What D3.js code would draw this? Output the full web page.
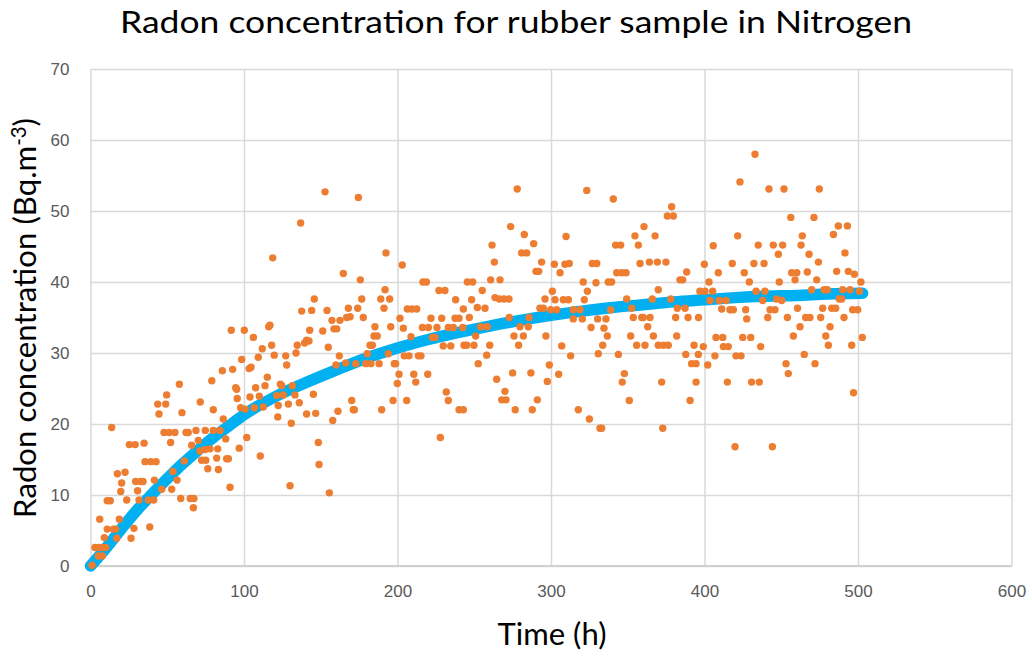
<!DOCTYPE html>
<html lang="en">
<head>
    <title>Radon concentration for rubber sample in Nitrogen</title>
    <meta charset="utf-8"/>
    <script src="https://d3js.org/d3.v7.min.js"></script>
    <style>
        body { margin: 0; background: #fff; }
        svg { font-family: Lato, "Open Sans", sans-serif; }
        .grid line { stroke: #d9d9d9; stroke-width: 1.5px; }
        .ticks text { fill: #595959; font-size: 17px; }
    </style>
</head>
<body>
<div id="chart">
    <svg width="1032" height="656"></svg>
</div>

<script type="text/javascript">

    const measuredPoints = [
        // 0 - 100 h
        [57.9,25.6],[49.6,24.1],[43.8,22.8],[49.0,22.8],[71.5,23.1],[44.6,21.4],[59.6,21.6],[80,22.0],
        [13.8,19.5],[47.9,18.8],[51.3,18.8],[55,18.8],[62.2,18.8],[63.7,18.8],[68.7,19.1],[74.8,19.1],
        [80,19.1],[52.2,17.4],[65.9,17.0],[70.2,17.7],[25.3,17.1],[29.1,17.1],[34.9,17.3],[71.3,16.2],
        [74.6,16.4],[77.9,16.5],[35.5,14.7],[39.2,14.7],[42.7,14.7],[61.1,14.8],[72.4,14.9],[75.1,14.9],
        [76.4,13.7],[17.5,13.0],[22.5,13.2],[53.7,13.3],[20.3,11.7],[29.4,11.9],[32.7,11.9],[34.2,11.9],
        [41.6,12.1],[56.4,12.1],[46.4,10.8],[52.9,10.8],[19.7,10.5],[30.7,10.6],[10.9,9.2],[12.9,9.2],
        [23.6,9.3],[31.6,9.3],[37.7,9.3],[41.2,9.3],[58.8,9.5],[65.0,9.5],[67.4,9.5],[67,8.2],
        [6.0,6.6],[18.8,6.6],[10.9,5.2],[14.9,5.2],[16.4,5.2],[28.3,5.3],[38.6,5.5],[9.0,4.0],
        [17.1,3.9],[26.4,3.9],[2.9,2.6],[5.5,2.6],[7.9,2.6],[9.9,2.6],[5.1,1.4],[7.7,1.4],
        [1,0.1],[79,26.1],[84.4,19.1],[88.1,17.9],[82.9,16.5],[96.9,16.6],[82.2,15.2],[88.7,15.1],
        [89.8,15.1],[83.3,13.6],[90.9,11.1],[91.7,33.2],[100.2,33.2],[98.5,29.1],[85.9,27.5],[92.6,27.7],
        [94.6,25.1],[95.2,24.9],[95.6,23.6],[97.8,22.3],[86.5,20.7],
        // 100 - 165 h
        [101.8,18.1],[148.4,17.4],[110.6,15.5],[148.9,14.3],[130,11.3],[155.6,10.3],
        [118.7,43.4],[145.8,37.6],[137.6,35.9],[144.1,36.0],[154.1,36.0],[157.3,34.6],[162.5,34.6],[116.1,33.7],
        [116.9,33.9],[106.1,32.2],[142.8,33.2],[151.3,33.1],[158.6,33.4],[160.4,33.4],[140.8,31.8],[142.3,31.7],
        [139.5,31.4],[134.7,31.1],[118,31.1],[111.9,30.6],[154.9,30.8],[109.3,29.4],[119.7,29.7],[127.2,29.6],
        [133.9,30.0],[127.8,28.3],[162.1,29.6],[159.9,28.3],[103.3,27.8],[104.6,28.0],[115.2,26.6],[107.6,25.1],
        [113.7,25.4],[123.7,25.6],[124.6,25.4],[131.5,25.4],[103.9,23.8],[110,23.9],[121.3,24.0],[125.6,24.1],
        [133.2,24.1],[145.2,24.2],[136,23.0],[128.9,22.8],[122.3,22.6],[100.7,22.1],[106.7,22.3],[112.6,22.4],
        [140.8,21.4],[146.7,21.5],[122,21.0],[161.2,21.8],[157.8,20.5],[130.8,20.1],[152.8,52.7],[136.9,48.3],
        // 165 - 245 h
        [174.5,51.9],[192.5,44.1],[203.1,42.4],[164.7,41.2],[175.8,40.3],[216.6,40.0],[218.8,40.0],[191.9,38.9],
        [227.0,38.8],[230.9,38.8],[176.7,37.6],[189.1,37.6],[194.9,37.6],[237.9,37.5],[168,36.3],[174.1,36.3],
        [191.2,36.3],[206.4,36.2],[209.3,36.2],[212.5,36.2],[242.9,36.2],[166.9,35.0],[169.1,35.1],[177.7,35.0],
        [201.6,34.9],[221.8,34.9],[228.8,34.9],[237.5,34.9],[240.1,34.9],[185.3,33.7],[195.6,33.7],[203.8,33.5],
        [216.2,33.6],[220.1,33.6],[225.7,33.6],[233.1,33.6],[236.4,33.6],[242.5,33.6],[184.7,32.4],[186.8,32.4],
        [208.8,32.3],[222.7,32.2],[224.4,32.2],[182.1,31.1],[183.6,31.1],[229.8,31.0],[234.7,31.0],[243.3,31.1],
        [180.3,29.9],[194.0,29.9],[204.4,29.6],[207.5,29.6],[213.6,29.6],[215.3,29.6],[166.3,28.6],[172.8,28.5],
        [179.3,28.5],[182.7,28.5],[188,28.5],[197.9,28.5],[198.8,28.5],[201,27.0],[199.9,25.7],[210.6,27.0],
        [211.9,25.9],[219.7,27.0],[197.1,23.3],[206,23.3],[170.2,23.3],[171.2,22.0],[171.9,22.0],[189.7,22.0],
        [231.8,24.5],[233.1,23.3],[240.1,22.0],[242.9,22.0],[227.9,18.1],
        // 245 - 332 h
        [278,53.1],[323.3,52.9],[273.7,47.8],[282.6,46.7],[309.8,46.4],[261.6,45.2],[288.7,45.4],[280.9,44.1],
        [284.2,44.1],[263.1,42.8],[293.9,42.8],[302.2,42.5],[309.1,42.5],[311.9,42.6],[326.9,42.6],[329.8,42.6],
        [290.2,41.5],[292,41.5],[305.9,41.3],[245.5,40.0],[249,40.0],[260.7,40.3],[266.8,40.3],[321,40.0],
        [329.3,39.9],[255.2,38.8],[300.9,38.7],[323.7,38.7],[263.5,37.8],[266.3,37.6],[269.4,37.6],[272.6,37.6],
        [248.3,37.5],[296.1,37.6],[302.6,37.5],[308,37.5],[311.3,37.5],[321.7,37.5],[252,36.4],[257,36.3],
        [292.8,36.3],[295,36.3],[299.8,36.1],[303.7,36.1],[314.5,36.1],[318.9,36.1],[246.8,35.0],[272.8,35.0],
        [285.7,35.0],[314.5,34.8],[320.4,34.8],[330.4,34.8],[254.2,33.7],[258.5,33.7],[279.8,33.7],[285.2,33.7],
        [326.1,33.6],[250.9,32.4],[275.9,32.4],[282,32.4],[296.7,32.4],[245.1,31.1],[249.8,31.1],[260.1,31.1],
        [278.9,31.1],[258.1,29.7],[307,31.0],[312.8,29.6],[330.8,29.9],[252.6,28.5],[298.9,28.3],[275,27.2],
        [286.9,27.2],[305,27.0],[264.6,26.3],[297.6,26.0],[270,24.6],[267.9,23.4],[270.7,23.4],[291.1,23.4],
        [276.7,22.0],[287.8,22.0],[317.8,22.0],[325,20.7],[331.9,19.4],
        // 332 - 416 h
        [340.6,51.7],[378.6,50.6],[375.8,49.3],[379.7,49.3],[360.6,47.8],[354.7,46.5],[367.8,46.5],[356.9,45.2],
        [342.1,45.2],[345.4,45.2],[405.7,45.1],[358,42.6],[364.1,42.8],[369.3,42.8],[374.9,42.8],[399.9,42.5],
        [342.8,41.3],[346.1,41.3],[348.9,41.3],[388.4,41.4],[409,41.3],[337.3,40.0],[339.5,40.0],[384,40.3],
        [385.8,40.3],[402.9,40.0],[369.9,38.9],[397,38.7],[400.3,38.7],[405.3,38.7],[349.3,37.6],[366,37.6],
        [378,37.6],[403.6,37.4],[409.6,37.4],[414,37.4],[338.9,36.1],[352.6,36.3],[382.3,36.3],[387.3,36.3],
        [411.2,36.2],[335.8,34.8],[353.6,35.0],[359.1,35.0],[360.1,35.0],[364.5,35.0],[381.2,35.0],[389.3,35.0],
        [396.1,35.0],[334.5,33.5],[363,33.7],[336.7,32.4],[351.9,32.4],[366.7,32.4],[381.9,32.4],[407.5,32.2],
        [411.9,32.2],[333.7,31.1],[355.8,31.1],[361.2,31.1],[369.9,31.1],[373.2,31.1],[376.4,31.1],[393.2,31.1],
        [399.2,30.9],[412.3,30.9],[415.5,30.9],[343.9,29.8],[387.8,29.8],[396,29.8],[406.8,29.6],[391.6,28.5],
        [394.5,28.5],[402.1,28.3],[347.8,27.1],[346.4,25.9],[372.1,25.9],[394.5,25.9],[414.9,25.9],[351,23.3],
        [390.6,23.3],[333,19.4],[372.8,19.4],
        // 416 - 503 h
        [432.9,58.0],[423.1,54.1],[442,53.1],[451.8,53.1],[474.8,53.1],[456.2,49.1],[471.3,49.1],[487.2,47.9],
        [493.1,47.9],[484,46.7],[421.6,46.5],[463.7,46.5],[435,45.2],[444.8,45.2],[450.9,45.2],[462.9,45.2],
        [448.1,43.9],[468.1,43.9],[491.5,44.1],[418.1,42.6],[432.2,42.6],[438.8,42.6],[474.2,42.8],[425.9,41.3],
        [456.8,41.3],[460.1,41.3],[467,41.4],[486.1,41.5],[493.7,41.5],[497.6,41.1],[429.2,40.0],[448.7,40.0],
        [459,40.3],[473.1,40.3],[501.9,40.0],[433.6,38.7],[439.4,38.7],[469.8,38.9],[477.9,38.9],[480,38.9],
        [490,38.9],[494.8,38.9],[500.9,38.7],[437.9,37.4],[447,37.6],[450.3,37.4],[487.8,37.6],[489.4,37.6],
        [416.6,36.1],[418.8,36.1],[426.8,36.1],[442.7,36.1],[445.9,36.1],[460.6,36.3],[477,36.3],[482.9,36.3],
        [485.5,36.3],[496.5,36.1],[499.8,36.1],[427.5,34.8],[441.2,35.0],[454,35.0],[465.9,35.0],[468.7,35.0],
        [475.7,35.0],[490.9,35.0],[462.2,33.7],[481.8,33.7],[424.9,32.2],[430.1,32.2],[457.9,32.4],[479,32.4],
        [436.6,30.9],[480.7,31.1],[495.9,31.1],[502.8,32.2],[420.5,29.6],[423.8,29.6],[465,29.8],[453.1,28.5],
        [472,28.5],[454.6,27.1],[430.7,25.9],[435.7,25.9],[497.1,24.4],[419.9,16.8],[444.2,16.8]
    ];

    // fitted growth curve [time (h), Bq.m-3]
    const fitPoints = [
        [0,0],[10,2.5],[20,5.2],[30,7.8],[40,10.1],[50,12.3],[60,14.4],[70,16.3],[80,18.1],[90,19.7],
        [100,21.3],[120,23.8],[140,25.8],[160,27.6],[180,29.3],[200,30.7],[220,31.9],[240,32.9],[260,33.8],
        [280,34.6],[300,35.3],[320,35.9],[340,36.4],[360,36.8],[380,37.2],[400,37.5],[420,37.8],[440,38.0],
        [460,38.1],[480,38.3],[503,38.4]
    ];

    const xTicks = [0, 100, 200, 300, 400, 500, 600];
    const yTicks = [0, 10, 20, 30, 40, 50, 60, 70];

    const orange = "#ed7d31", blue = "#00b0f0";

    // plot area
    const plotLeft = 90.5, plotRight = 1011.5, plotTop = 69, plotBottom = 566;

    let escalaX = d3.scaleLinear().domain([0, 600]).range([plotLeft, plotRight]);
    let escalaY = d3.scaleLinear().domain([0, 70]).range([plotBottom, plotTop]);

    let svg = d3.select("svg");

    // vertical grid + x labels
    let ejeX = d3.axisBottom(escalaX)
        .tickValues(xTicks)
        .tickSize(-(plotBottom - plotTop))
        .tickPadding(19);

    svg.append("g")
        .attr("class", "grid ticks")
        .attr("transform", "translate(0," + plotBottom + ")")
        .call(ejeX)
        .call(g => g.select(".domain").remove())
        .call(g => g.selectAll("text").attr("font-size", null));

    // horizontal grid + y labels
    let ejeY = d3.axisLeft(escalaY)
        .tickValues(yTicks)
        .tickSize(-(plotRight - plotLeft))
        .tickPadding(21);

    svg.append("g")
        .attr("class", "grid ticks")
        .attr("transform", "translate(" + plotLeft + ",0)")
        .call(ejeY)
        .call(g => g.select(".domain").remove())
        .call(g => g.selectAll("text").attr("font-size", null));

    // bottom axis line a bit stronger than the grid
    svg.append("line")
        .attr("x1", plotLeft).attr("x2", plotRight)
        .attr("y1", escalaY(0)).attr("y2", escalaY(0))
        .attr("stroke", "#d0d0d0")
        .attr("stroke-width", 2);

    // fitted curve (thick blue band)
    let fitLine = d3.line()
        .x(d => escalaX(d[0]))
        .y(d => escalaY(d[1]))
        .curve(d3.curveMonotoneX);

    svg.append("path")
        .attr("d", fitLine(fitPoints))
        .attr("fill", "none")
        .attr("stroke", blue)
        .attr("stroke-width", 11.5)
        .attr("stroke-linecap", "round")
        .attr("stroke-linejoin", "round");

    // measured points
    svg.append("g")
        .selectAll("circle")
        .data(measuredPoints).enter()
        .append("circle")
        .attr("r", 3.7)
        .attr("cx", d => escalaX(d[0]))
        .attr("cy", d => escalaY(d[1]))
        .style("fill", orange);

    /*
    * ajusta el tamaño de letra para que el texto mida lo que mide en la imagen
    */
    function ajustarAncho(texto, base, ancho) {
        let medido = texto.node().getComputedTextLength();
        let f = medido > 0 ? ancho / medido : 1;
        texto.attr("font-size", base * f);
        return f;
    }

    // titles
    svg.append("text")
        .attr("x", 516)
        .attr("y", 33)
        .attr("text-anchor", "middle")
        .attr("font-size", 30)
        .attr("textLength", 792)
        .attr("lengthAdjust", "spacingAndGlyphs")
        .attr("fill", "#000")
        .text("Radon concentration for rubber sample in Nitrogen");

    let xTitulo = svg.append("text")
        .attr("x", 552)
        .attr("y", 645)
        .attr("text-anchor", "middle")
        .attr("font-size", 26)
        .attr("fill", "#000")
        .text("Time (h)");
    ajustarAncho(xTitulo, 26, 109);

    let yTitulo = svg.append("text")
        .attr("transform", "translate(36," + 318 + ") rotate(-90)")
        .attr("text-anchor", "middle")
        .attr("font-size", 26)
        .attr("fill", "#000");
    yTitulo.append("tspan").text("Radon concentration (Bq.m");
    yTitulo.append("tspan").attr("font-size", 17).attr("dy", -10).text("-3");
    yTitulo.append("tspan").attr("dy", 10).text(")");
    let fy = ajustarAncho(yTitulo, 26, 400);
    yTitulo.select("tspan:nth-child(2)").attr("font-size", 17 * fy);

</script>
</body>
</html>
